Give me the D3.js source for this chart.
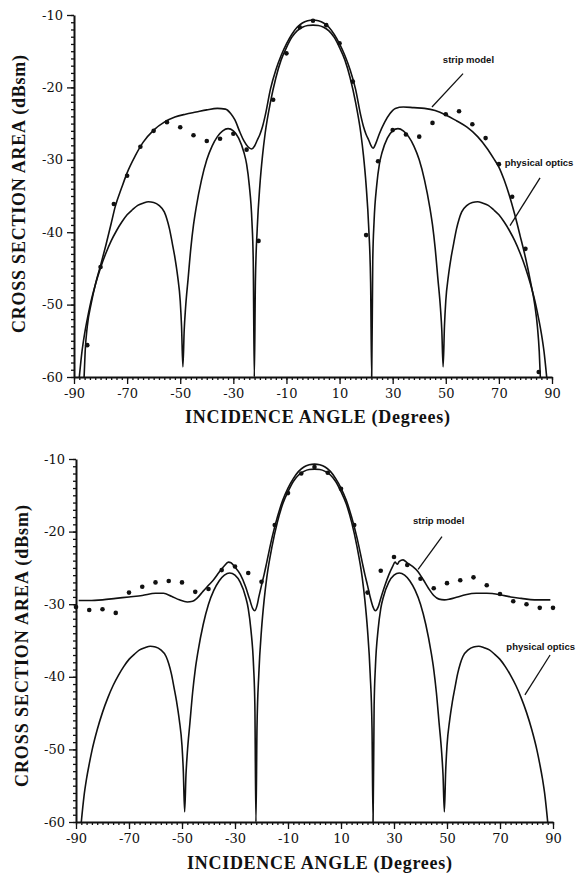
<!DOCTYPE html>
<html>
<head>
<meta charset="utf-8">
<script src="https://cdn.jsdelivr.net/npm/d3@7/dist/d3.min.js"></script>
<style>
body { margin: 0; background: #fff; }
.tick text { font-family: "DejaVu Serif", serif; font-size: 13px; fill: #111; }
.title { font-family: "Liberation Serif", serif; font-weight: bold; font-size: 18px; fill: #111; }
.note { font-family: "Liberation Sans", Arial, sans-serif; font-weight: bold; font-size: 9.5px; fill: #111; }
</style>
</head>
<body>
<svg id="chart" width="578" height="874"></svg>
<script>
// angle (deg) / RCS (dBsm) pairs
var poCurve = [
  [-88,-60],[-87,-56.5],[-86,-54],[-85,-52],[-84,-50.2],[-82,-47.3],[-80,-44.9],[-78,-42.9],[-76,-41.2],
  [-74,-39.8],[-72,-38.6],[-70,-37.6],[-68,-36.9],[-66,-36.3],[-64,-36],[-62,-35.8],[-60,-35.9],[-58,-36.3],
  [-56,-37.2],[-55,-38.2],[-54,-39.6],[-53,-41.5],[-52,-43.5],[-51,-46],[-50,-49.5],[-49.5,-53],[-49,-58.6],
  [-48.5,-53.5],[-48,-50.5],[-47,-46.3],[-46,-42.2],[-45,-39],[-44,-36.6],[-42,-32.8],[-40,-30],[-38,-28.1],
  [-36,-26.8],[-34,-26],[-32,-25.7],[-30,-26],[-28,-27],[-26,-29],[-25,-30.6],[-24,-33.5],[-23,-38.5],
  [-22.5,-44],[-22.1,-60],[-21.7,-47],[-21,-39.5],[-20,-33.5],[-19,-29.4],[-18,-26.3],[-16,-22],[-14,-18.7],
  [-12,-16.2],[-10,-14.5],[-8,-13.1],[-6,-12.2],[-4,-11.7],[-2,-11.45],[0,-11.4],
  [2,-11.45],[4,-11.7],[6,-12.2],[8,-13.1],[10,-14.5],[12,-16.2],[14,-18.7],[16,-22],[18,-26.3],[19,-29.4],
  [20,-33.5],[21,-39.5],[21.7,-47],[22.1,-60],[22.5,-44],[23,-38.5],[24,-33.5],[25,-30.6],[26,-29],[28,-27],
  [30,-26],[32,-25.7],[34,-26],[36,-26.8],[38,-28.1],[40,-30],[42,-32.8],[44,-36.6],[45,-39],[46,-42.2],
  [47,-46.3],[48,-50.5],[48.5,-53.5],[49,-58.6],[49.5,-53],[50,-49.5],[51,-46],[52,-43.5],[53,-41.5],[54,-39.6],
  [55,-38.2],[56,-37.2],[58,-36.3],[60,-35.9],[62,-35.8],[64,-36],[66,-36.3],[68,-36.9],[70,-37.6],[72,-38.6],
  [74,-39.8],[76,-41.2],[78,-42.9],[80,-44.9],[82,-47.3],[84,-50.2],[85,-52],[86,-54],[87,-56.5],[88,-60]
];

var stripTop = [
  [-86.2,-60],[-85.8,-56.5],[-85,-53],[-83.5,-49.8],[-81.8,-47],[-80,-44.6],[-78,-41.8],[-76,-38.8],
  [-74.5,-36.5],[-72,-33.8],[-70,-31.8],[-67,-29.5],[-64,-27.6],[-60,-25.9],[-56,-24.8],[-52,-24.1],
  [-48,-23.7],[-44,-23.4],[-40,-23.1],[-36,-22.9],[-33,-23],[-31,-23.6],[-29.4,-24.5],[-27.5,-26.2],
  [-26,-27.4],[-24.5,-28.2],[-23.1,-28.5],[-22,-28.1],[-21,-27.3],[-20,-26.5],[-19,-25.4],[-18,-23.9],
  [-16,-20.2],[-14,-17.6],[-12,-15.6],[-10,-14],[-8,-12.7],[-6,-11.7],[-4,-11.1],[-2,-10.8],[0,-10.7],
  [2,-10.8],[4,-11.1],[6,-11.7],[8,-12.7],[10,-14],[12,-15.6],[14,-17.6],[16,-20.2],[18,-23.9],[19,-25.4],
  [20,-26.5],[21,-27.3],[21.8,-28],[22.6,-28.4],[23.8,-27.6],[25,-26.4],[27,-24.8],[29,-23.6],[31,-22.9],
  [34,-22.7],[38,-22.8],[42,-22.9],[46,-23.2],[50,-23.8],[54,-24.6],[58,-25.5],[62,-26.8],[65.5,-28.4],
  [68,-29.8],[70,-31],[72,-32.8],[74,-35],[76,-37.6],[78,-40.5],[80,-43.5],[82,-47],[83.5,-50],
  [84.5,-53],[85.2,-56.5],[85.6,-60]
];

var stripBottom = [
  [-89,-29.5],[-85,-29.5],[-80,-29.4],[-75,-29.2],[-70,-29],[-65,-28.8],[-60,-28.5],[-57,-28.5],[-54,-28.9],
  [-51,-29.4],[-48,-29.7],[-46,-29.6],[-44.4,-29.2],[-42,-28.2],[-40,-27.4],[-38,-26.6],[-36,-25.6],
  [-34,-24.7],[-32.5,-24.2],[-31.5,-24.3],[-30,-24.9],[-28,-25.9],[-26,-27.6],[-24.5,-29.3],[-23.3,-30.6],
  [-22.5,-30.9],[-21.7,-30.2],[-21,-29],[-20,-27.4],[-19,-25.9],[-18,-24.2],[-16,-20.8],[-14,-18],
  [-12,-15.7],[-10,-14],[-8,-12.7],[-6,-11.7],[-4,-11.1],[-2,-10.8],[0,-10.7],[2,-10.8],[4,-11.1],
  [6,-11.7],[8,-12.7],[10,-14],[12,-15.7],[14,-18],[16,-20.8],[18,-24.2],[19,-25.9],[20,-27.4],[21,-29],
  [22,-30.3],[23,-30.9],[24,-30.4],[25,-29.2],[26.5,-27.5],[28,-26],[29.5,-24.8],[30.4,-24.2],[31.2,-24.5],
  [32,-24.1],[33.4,-23.9],[35,-24.3],[37,-24.8],[39,-25.5],[41,-26.6],[43,-27.8],[45,-28.8],[47,-29.3],
  [49,-29.4],[51,-29.3],[54,-29],[57,-28.7],[61,-28.5],[65,-28.5],[70,-28.7],[74,-29],[78,-29.2],
  [83,-29.4],[89,-29.4]
];

// measured points (dots)
var measTop = [
  [-85,-55.6],[-80,-44.8],[-75,-36.1],[-70,-32.2],[-65,-28.2],[-60,-26],[-55,-24.8],[-50,-25.5],
  [-45,-26.6],[-40,-27.4],[-35,-27.1],[-30,-26.4],[-25,-28.6],[-20.5,-41.2],[-15,-21.7],[-10,-15.3],
  [-5,-11.7],[0,-10.8],[5,-11.4],[10,-13.9],[15,-19.2],[20,-40.4],[24.5,-30.2],[30,-25.9],[35,-26.5],
  [40,-26.8],[45,-24.9],[50,-23.7],[55,-23.3],[60,-25.1],[65,-27],[70,-30.6],[75,-35.1],[80,-42.3],
  [85,-59.3]
];

var measBottom = [
  [-90,-30.4],[-85,-30.8],[-80,-30.7],[-75,-31.2],[-70,-28.4],[-65,-27.6],[-60,-27],[-55,-26.8],
  [-50,-27],[-45,-28.3],[-40,-27.9],[-35,-25.3],[-30,-24.8],[-25,-25.7],[-20,-26.9],[-15,-19.1],
  [-10,-14.7],[-5,-12],[0,-11.1],[5,-11.9],[10,-14.1],[15,-19.1],[20,-28.4],[25,-25.4],[30,-23.5],
  [35,-24.6],[40,-26.5],[45,-27.8],[50,-27.1],[55,-26.7],[60,-26.3],[65,-27.4],[70,-28.6],[75,-29.6],
  [80,-30],[85,-30.5],[90,-30.5]
];

var xTicks = [-90, -70, -50, -30, -10, 10, 30, 50, 70, 90];
var yTicks = [-10, -20, -30, -40, -50, -60];

// labels with leader lines, in data units
var notesTop = [
  {text: "strip model", tx: 48.9, ty: -16.6, x1: 56.5, y1: -18.1, x2: 44.8, y2: -22.7},
  {text: "physical optics", tx: 72.2, ty: -30.9, x1: 85.5, y1: -32.5, x2: 74.2, y2: -39.1}
];
var notesBottom = [
  {text: "strip model", tx: 37.2, ty: -19, x1: 48.1, y1: -20.7, x2: 39.1, y2: -25.2},
  {text: "physical optics", tx: 72.4, ty: -36.3, x1: 88.9, y1: -37, x2: 79.4, y2: -42.5}
];

var svg = d3.select("#chart");

function drawPanel(p) {
  var x = d3.scaleLinear().domain([-90, 90]).range([p.left, p.right]);
  var y = d3.scaleLinear().domain([-60, -10]).range([p.bottom, p.top]);
  var g = svg.append("g");

  // minor ticks first, then the main axes on top
  g.append("g")
    .attr("transform", "translate(0," + p.bottom + ")")
    .call(d3.axisBottom(x).tickValues(d3.range(-90, 91, 2)).tickSize(3).tickFormat(""))
    .call(function(a) { a.select(".domain").remove(); });
  g.append("g")
    .attr("transform", "translate(" + p.left + ",0)")
    .call(d3.axisLeft(y).tickValues(d3.range(-60, -9, 1)).tickSize(3).tickFormat(""))
    .call(function(a) { a.select(".domain").remove(); });

  g.append("g")
    .attr("transform", "translate(0," + p.bottom + ")")
    .call(d3.axisBottom(x).tickValues(xTicks).tickSize(7).tickSizeOuter(0).tickPadding(5)
      .tickFormat(function(d) { return String(d); }));
  g.append("g")
    .attr("transform", "translate(" + p.left + ",0)")
    .call(d3.axisLeft(y).tickValues(yTicks).tickSize(7).tickSizeOuter(0).tickPadding(4)
      .tickFormat(function(d) { return String(d); }));
  g.selectAll(".domain").attr("stroke-width", 2).attr("stroke", "#111");
  g.selectAll(".tick line").attr("stroke", "#111").attr("stroke-width", 1.3);

  var line = d3.line()
    .x(function(d) { return x(d[0]); })
    .y(function(d) { return y(d[1]); })
    .curve(d3.curveMonotoneX);

  [poCurve, p.strip].forEach(function(s) {
    g.append("path")
      .datum(s)
      .attr("fill", "none")
      .attr("stroke", "#111")
      .attr("stroke-width", 1.6)
      .attr("d", line);
  });

  g.append("g").selectAll("circle")
    .data(p.meas)
    .enter().append("circle")
    .attr("cx", function(d) { return x(d[0]); })
    .attr("cy", function(d) { return y(d[1]); })
    .attr("r", 2.3)
    .attr("fill", "#111");

  var n = g.append("g").selectAll("g").data(p.notes).enter().append("g");
  n.append("line")
    .attr("x1", function(d) { return x(d.x1); })
    .attr("y1", function(d) { return y(d.y1); })
    .attr("x2", function(d) { return x(d.x2); })
    .attr("y2", function(d) { return y(d.y2); })
    .attr("stroke", "#111")
    .attr("stroke-width", 1.3);
  n.append("text")
    .attr("class", "note")
    .attr("x", function(d) { return x(d.tx); })
    .attr("y", function(d) { return y(d.ty); })
    .text(function(d) { return d.text; });

  // axis titles
  g.append("text")
    .attr("class", "title")
    .attr("x", p.xTitle[0])
    .attr("y", p.xTitle[1])
    .attr("textLength", p.xTitle[2])
    .attr("lengthAdjust", "spacing")
    .text("INCIDENCE ANGLE (Degrees)");
  g.append("text")
    .attr("class", "title")
    .attr("text-anchor", "middle")
    .attr("transform", "translate(" + p.yTitle[0] + "," + p.yTitle[1] + ") rotate(-90)")
    .attr("textLength", p.yTitle[2])
    .attr("lengthAdjust", "spacing")
    .text("CROSS SECTION AREA (dBsm)");
}

drawPanel({left: 74, right: 552, top: 15, bottom: 377, strip: stripTop, meas: measTop,
  notes: notesTop, xTitle: [185, 423, 265], yTitle: [25, 194, 278]});
drawPanel({left: 76, right: 553, top: 459, bottom: 822, strip: stripBottom, meas: measBottom,
  notes: notesBottom, xTitle: [187, 869, 265], yTitle: [28, 646, 282]});
</script>
</body>
</html>
